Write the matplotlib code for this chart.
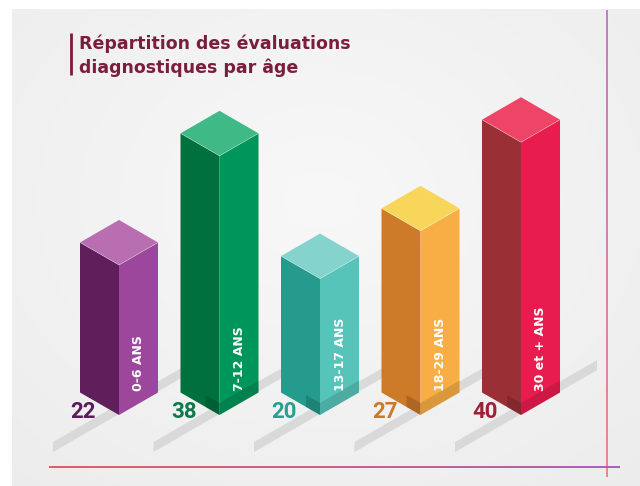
import numpy as np
import matplotlib.pyplot as plt
from matplotlib.patches import Polygon
from matplotlib.collections import LineCollection
import matplotlib.colors as mcolors

plt.rcParams['font.family'] = ['Lato', 'DejaVu Sans']

# data
categories = ["0-6 ANS", "7-12 ANS", "13-17 ANS", "18-29 ANS", "30 et + ANS"]
values = [22, 38, 20, 27, 40]
top_colors = ["#b96eb1", "#3fb985", "#84d3cd", "#f7d65a", "#ee4468"]
left_colors = ["#5e1f5b", "#00703f", "#249b8c", "#cd7a29", "#9a3035"]
right_colors = ["#9c479c", "#00955a", "#57c4ba", "#f9ae45", "#e81c4e"]
value_colors = ["#5a1d5a", "#0b7a4a", "#26a08f", "#cc7a2a", "#a0203a"]
title = "Répartition des évaluations\ndiagnostiques par âge"

# layout in pixel units
W, H = 640, 486
x0, step = 119, 100.5
half = 39
depth = 22.5
base = 415
scale = 6.82

fig = plt.figure(figsize=(6.4, 4.86), dpi=100)
ax = fig.add_axes([0, 0, 1, 1])
ax.set_xlim(0, W)
ax.set_ylim(H, 0)
ax.axis('off')

# background panel with soft radial gradient
yy, xx = np.mgrid[0:H, 0:W]
r = np.sqrt(((xx - 320) / 420.0) ** 2 + ((yy - 200) / 340.0) ** 2)
bg = np.clip(0.972 - 0.04 * r, 0.915, 0.972)
img = np.dstack([bg, bg, bg])
img[:10, :, :] = 1.0
img[:, :12, :] = 1.0
ax.imshow(img, extent=[0, W, H, 0], zorder=0, aspect='auto')

# title
ax.plot([71, 71], [33, 75], color="#7b1a3a", lw=2, solid_capstyle='butt', zorder=5)
ax.text(79, 56, title, color="#7a1e3c", fontsize=12.5, fontweight='bold',
        family=['DejaVu Sans'], va='center', ha='left', linespacing=1.35, zorder=5)

# frame lines with gradient
def grad_line(xs, ys, c1, c2, lw):
    n = 100
    px = np.linspace(xs[0], xs[1], n)
    py = np.linspace(ys[0], ys[1], n)
    pts = np.array([px, py]).T.reshape(-1, 1, 2)
    segs = np.concatenate([pts[:-1], pts[1:]], axis=1)
    a = np.array(mcolors.to_rgb(c1))
    b = np.array(mcolors.to_rgb(c2))
    t = np.linspace(0, 1, n - 1)[:, None]
    cols = a * (1 - t) + b * t
    ax.add_collection(LineCollection(segs, colors=cols, linewidths=lw, zorder=6))

grad_line([607, 607], [10, 477], "#b97fc2", "#e8868e", 1.4)
grad_line([49, 620], [467, 467], "#e25a5e", "#a262b2", 1.4)

tan30 = depth / half

for i, v in enumerate(values):
    cx = x0 + i * step
    h = v * scale
    top = base - h

    # floor shadow strip
    xl, xr = cx - 66, cx + 76
    yc = base - 6
    th = 10
    strip = [(xl, yc + (cx - xl) * tan30 + th / 2),
             (xr, yc - (xr - cx) * tan30 + th / 2),
             (xr, yc - (xr - cx) * tan30 - th / 2),
             (xl, yc + (cx - xl) * tan30 - th / 2)]
    ax.add_patch(Polygon(strip, closed=True, facecolor="#d2d2d2", edgecolor='none',
                         alpha=0.75, zorder=1))

    # faces
    left = [(cx - half, top - depth), (cx, top), (cx, base), (cx - half, base - depth)]
    right = [(cx, top), (cx + half, top - depth), (cx + half, base - depth), (cx, base)]
    topf = [(cx - half, top - depth), (cx, top - 2 * depth), (cx + half, top - depth), (cx, top)]
    ax.add_patch(Polygon(left, closed=True, facecolor=left_colors[i], edgecolor='none', zorder=2))
    ax.add_patch(Polygon(right, closed=True, facecolor=right_colors[i], edgecolor='none', zorder=2))
    ax.add_patch(Polygon(topf, closed=True, facecolor=top_colors[i], edgecolor='none', zorder=2))
    ax.plot([cx - half, cx, cx + half], [top - depth, top, top - depth],
            color='white', lw=0.4, alpha=0.5, zorder=3)

    # darker foot band
    if i > 0:
        bh = 12
        ax.add_patch(Polygon([(cx - 14, base - 8 - bh), (cx, base - bh), (cx, base),
                              (cx - 14, base - 8)], closed=True,
                             facecolor='black', alpha=0.15, edgecolor='none', zorder=3))
        ax.add_patch(Polygon([(cx, base - bh), (cx + half, base - depth - bh),
                              (cx + half, base - depth), (cx, base)], closed=True,
                             facecolor='#000000', alpha=0.12, edgecolor='none', zorder=3))

    # labels
    ax.text(cx + 20, 391, categories[i], rotation=90, color='white', fontsize=9,
            fontweight='bold', family=['DejaVu Sans'], ha='center', va='bottom', zorder=4)
    ax.text(cx - 36, 412, str(v), color=value_colors[i], fontsize=16,
            fontweight='bold', family=['Roboto', 'DejaVu Sans'],
            ha='center', va='center', zorder=4)

plt.savefig("out.png", dpi=100)
